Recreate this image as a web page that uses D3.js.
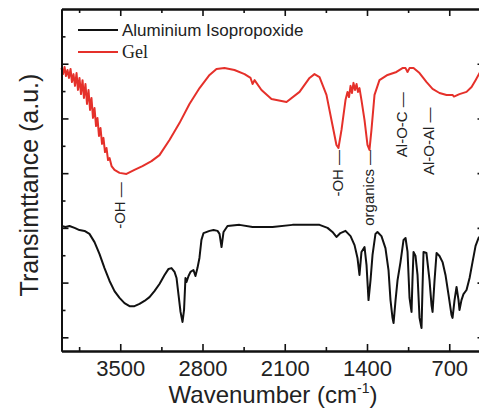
<!DOCTYPE html>
<html>
<head>
<meta charset="utf-8">
<script src="https://cdn.jsdelivr.net/npm/d3@7"></script>
<style>
  body { margin: 0; background: #fff; }
  svg { display: block; font-family: "Liberation Sans", Arial, sans-serif; }
</style>
</head>
<body>
<div id="chart"></div>
<script>
// Wavenumbers (cm-1) and transmittance (a.u.)
const gelWave = [4000, 3987, 3974, 3962, 3949, 3936, 3923, 3911, 3898, 3885, 3872, 3860, 3847, 3834, 3821, 3809, 3796, 3783, 3770, 3757, 3745, 3732, 3719, 3706, 3694, 3681, 3668, 3655, 3643, 3630, 3617, 3604, 3591, 3574, 3549, 3506, 3447, 3379, 3311, 3234, 3166, 3081, 2996, 2911, 2825, 2740, 2681, 2613, 2528, 2442, 2391, 2374, 2357, 2298, 2213, 2085, 1974, 1889, 1847, 1804, 1745, 1694, 1660, 1643, 1617, 1583, 1566, 1553, 1540, 1528, 1515, 1502, 1489, 1477, 1464, 1447, 1421, 1396, 1379, 1362, 1336, 1294, 1225, 1149, 1098, 1072, 1055, 1038, 1004, 953, 893, 842, 783, 723, 672, 660, 613, 553, 510, 476, 442, 400];
const gelT = [10.34, 10.12, 10.38, 10.05, 10.27, 9.98, 10.31, 9.83, 10.12, 9.69, 10.16, 9.54, 9.98, 9.39, 9.9, 9.25, 9.76, 9.03, 9.54, 8.81, 9.25, 8.52, 8.88, 8.22, 8.52, 7.86, 8.15, 7.57, 7.79, 7.27, 7.42, 6.98, 7.05, 6.76, 6.62, 6.51, 6.47, 6.62, 6.76, 6.94, 7.16, 7.71, 8.33, 9.03, 9.61, 10.09, 10.31, 10.34, 10.27, 10.12, 9.98, 9.76, 9.9, 9.54, 9.21, 9.1, 9.47, 9.98, 10.12, 10.01, 9.36, 8.26, 7.53, 7.42, 8.08, 9.17, 9.47, 9.28, 9.69, 9.43, 9.8, 9.54, 9.76, 9.47, 9.61, 9.17, 8.44, 7.53, 7.35, 8.08, 9.36, 9.9, 10.09, 10.2, 10.34, 10.34, 10.2, 10.34, 10.34, 10.16, 9.83, 9.58, 9.43, 9.36, 9.36, 9.3, 9.39, 9.47, 9.65, 9.9, 10.16, 10.45];

const alipWave = [4000, 3966, 3932, 3889, 3847, 3804, 3762, 3719, 3677, 3634, 3591, 3549, 3506, 3464, 3421, 3379, 3336, 3294, 3251, 3209, 3166, 3123, 3089, 3064, 3038, 3021, 3004, 2987, 2970, 2957, 2945, 2936, 2919, 2902, 2877, 2860, 2843, 2826, 2809, 2791, 2740, 2706, 2672, 2655, 2638, 2621, 2587, 2485, 2374, 2204, 2034, 1804, 1736, 1694, 1660, 1626, 1583, 1540, 1506, 1481, 1464, 1447, 1421, 1404, 1387, 1370, 1353, 1328, 1311, 1277, 1243, 1217, 1200, 1183, 1174, 1157, 1140, 1115, 1089, 1072, 1055, 1038, 1021, 1013, 1004, 987, 970, 953, 936, 928, 919, 894, 868, 851, 842, 825, 808, 783, 757, 732, 706, 681, 672, 655, 638, 621, 613, 596, 579, 553, 527, 502, 476, 451, 400];
const alipT = [4.57, 4.53, 4.57, 4.5, 4.42, 4.39, 4.28, 3.98, 3.55, 3.03, 2.56, 2.19, 1.94, 1.75, 1.64, 1.64, 1.72, 1.83, 1.97, 2.19, 2.45, 2.78, 3.0, 3.03, 2.89, 2.67, 2.05, 1.43, 1.06, 1.5, 2.67, 2.52, 2.74, 2.89, 2.96, 2.74, 3.03, 3.4, 4.06, 4.31, 4.39, 4.42, 4.39, 4.28, 3.8, 4.35, 4.57, 4.61, 4.53, 4.53, 4.61, 4.61, 4.5, 4.35, 4.17, 4.31, 4.39, 4.2, 3.87, 3.4, 2.78, 3.62, 3.8, 3.14, 1.86, 2.59, 3.51, 4.28, 4.35, 4.2, 3.76, 2.96, 1.86, 1.21, 1.02, 1.86, 2.59, 3.25, 4.06, 4.13, 3.62, 1.94, 1.43, 2.59, 3.62, 3.47, 2.78, 1.21, 0.84, 2.23, 3.62, 3.58, 2.59, 1.68, 1.43, 2.59, 3.58, 3.47, 3.25, 2.78, 2.05, 1.32, 1.21, 1.86, 2.34, 1.86, 1.5, 1.86, 2.08, 2.23, 2.67, 3.25, 3.84, 4.13, 4.35];

const majorWave = [3500, 2800, 2100, 1400, 700];
const minorWave = [3850, 3150, 2450, 1750, 1050];
const majorY = [0.5, 2.5, 4.5, 6.5, 8.5, 10.5];
const minorY = [1.5, 3.5, 5.5, 7.5, 9.5, 11.5];

const seriesNames = ["Aluminium Isopropoxide", "Gel"];
const seriesColors = ["#111111", "#e5302a"];

// band labels: wavenumber, top of text (in T units), label
const bandWave = [3500, 1650, 1380, 1105, 870];
const bandTop = [6.17, 7.35, 7.35, 9.46, 8.90];
const bandText = ["-OH \u2014", "-OH \u2014", "organics \u2014", "Al-O-C \u2014", "Al-O-Al \u2014"];

const width = 479, height = 412;
const margin = { left: 61.5, right: -5.5, top: 9, bottom: 61 };

const svg = d3.select("#chart").append("svg")
    .attr("width", width)
    .attr("height", height);

const x = d3.scaleLinear()
    .domain([4000, 400])
    .range([margin.left, width - margin.right]);

const y = d3.scaleLinear()
    .domain([0, 12.5])
    .range([height - margin.bottom, margin.top]);

const line = d3.line()
    .x(d => x(d[0]))
    .y(d => y(d[1]));

// spectra
const alip = alipWave.map((w, i) => [w, alipT[i]]);
const gel = gelWave.map((w, i) => [w, gelT[i]]);

svg.append("path")
    .datum(alip)
    .attr("fill", "none")
    .attr("stroke", seriesColors[0])
    .attr("stroke-width", 2)
    .attr("stroke-linejoin", "round")
    .attr("d", line);

svg.append("path")
    .datum(gel)
    .attr("fill", "none")
    .attr("stroke", seriesColors[1])
    .attr("stroke-width", 2)
    .attr("stroke-linejoin", "round")
    .attr("d", line);

// axes, ticks point inward
function styleAxis(g) {
    g.selectAll(".domain").attr("stroke", "#111").attr("stroke-width", 2);
    g.selectAll(".tick line").attr("stroke", "#111").attr("stroke-width", 1.6);
}

const bottom = svg.append("g")
    .attr("transform", `translate(0,${height - margin.bottom})`)
    .call(d3.axisBottom(x).tickValues(majorWave).tickSize(-7).tickSizeOuter(0).tickPadding(9).tickFormat(d3.format("d")))
    .call(styleAxis);
bottom.selectAll("text")
    .attr("font-size", 22)
    .attr("font-family", "Liberation Sans, Arial, sans-serif")
    .attr("fill", "#222");

svg.append("g")
    .attr("transform", `translate(0,${height - margin.bottom})`)
    .call(d3.axisBottom(x).tickValues(minorWave).tickSize(-4).tickSizeOuter(0).tickFormat(""))
    .call(styleAxis);

svg.append("g")
    .attr("transform", `translate(0,${margin.top})`)
    .call(d3.axisTop(x).tickValues(majorWave).tickSize(-7).tickSizeOuter(0).tickFormat(""))
    .call(styleAxis);

svg.append("g")
    .attr("transform", `translate(0,${margin.top})`)
    .call(d3.axisTop(x).tickValues(minorWave).tickSize(-4).tickSizeOuter(0).tickFormat(""))
    .call(styleAxis);

svg.append("g")
    .attr("transform", `translate(${margin.left},0)`)
    .call(d3.axisLeft(y).tickValues(majorY).tickSize(-7).tickSizeOuter(0).tickFormat(""))
    .call(styleAxis);

svg.append("g")
    .attr("transform", `translate(${margin.left},0)`)
    .call(d3.axisLeft(y).tickValues(minorY).tickSize(-4).tickSizeOuter(0).tickFormat(""))
    .call(styleAxis);

svg.append("g")
    .attr("transform", `translate(${width - margin.right},0)`)
    .call(d3.axisRight(y).tickValues(majorY).tickSize(-7).tickSizeOuter(0).tickFormat(""))
    .call(styleAxis);

// axis titles
const xTitle = svg.append("text")
    .attr("x", 273)
    .attr("y", 403)
    .attr("text-anchor", "middle")
    .attr("font-size", 24)
    .attr("fill", "#222");
xTitle.append("tspan").text("Wavenumber (cm");
xTitle.append("tspan").attr("font-size", 14).attr("dy", -10).text("-1");
xTitle.append("tspan").attr("dy", 10).text(")");

svg.append("text")
    .attr("transform", "translate(38,185) rotate(-90)")
    .attr("text-anchor", "middle")
    .attr("font-size", 25)
    .attr("fill", "#222")
    .text("Transimttance (a.u.)");

// legend
const legend = svg.append("g");
seriesNames.forEach((name, i) => {
    const ly = 30 + i * 22;
    legend.append("line")
        .attr("x1", 78).attr("x2", 118)
        .attr("y1", ly).attr("y2", ly)
        .attr("stroke", seriesColors[i])
        .attr("stroke-width", 2);
    legend.append("text")
        .attr("x", 122)
        .attr("y", ly + 6)
        .attr("font-size", i === 0 ? 17 : 18)
        .attr("font-family", i === 0 ? "Liberation Sans, Arial, sans-serif" : "Liberation Serif, Times New Roman, serif")
        .attr("fill", "#222")
        .text(name);
});

// band assignments, vertical text
bandText.forEach((t, i) => {
    svg.append("text")
        .attr("transform", `translate(${x(bandWave[i]) + 5},${y(bandTop[i])}) rotate(-90)`)
        .attr("text-anchor", "end")
        .attr("font-size", 15)
        .attr("fill", "#222")
        .text(t);
});
</script>
</body>
</html>
